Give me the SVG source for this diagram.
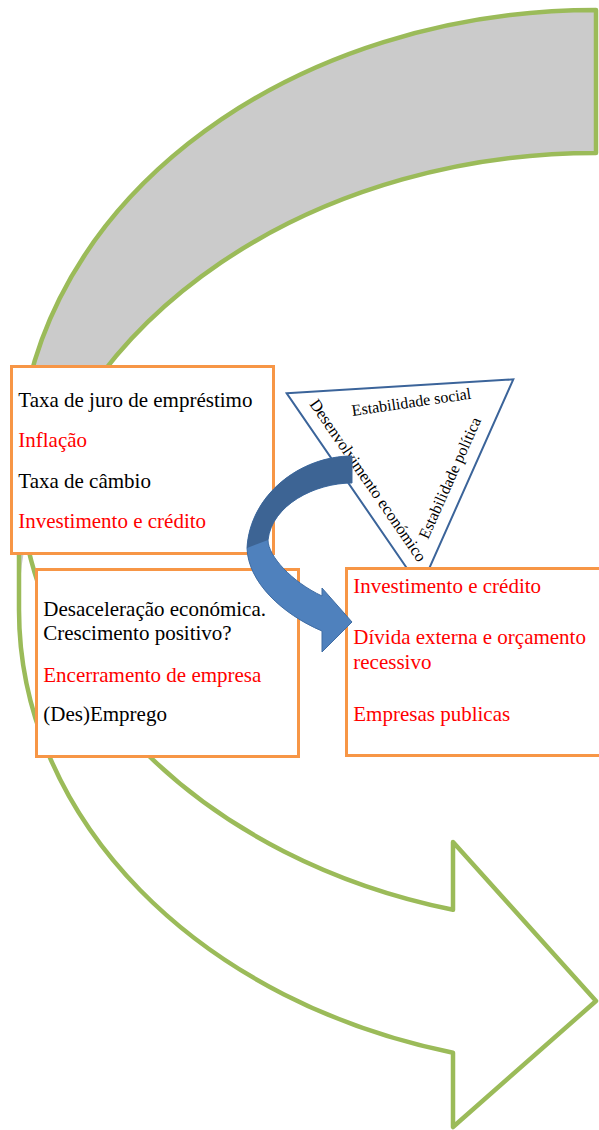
<svg xmlns="http://www.w3.org/2000/svg" width="599" height="1130" viewBox="0 0 599 1130">
<style>
.box{fill:#fff;stroke:#f79646;stroke-width:3}
.t{font-family:"Liberation Serif","Times New Roman",serif;font-size:21px}
.k{fill:#000}
.r{fill:#ff0000}
.tri{font-family:"Liberation Serif","Times New Roman",serif;font-size:16px;fill:#000}
</style>
<rect width="599" height="1130" fill="#fff"/>
<g id="cycle-arrow">
<path d="M19,467 A577,457 0 0 0 453,909.7 L453,842 L596,1001 L453,1127 L453,1052.7 A577,457 0 0 1 19,610 Z" fill="#fff"/>
<path d="M596,10 A577,457 0 0 0 19,467 L19,610 A577,457 0 0 1 596,153 Z" fill="#cbcbcb"/>
<path d="M19,467 A577,457 0 0 0 453,909.7 L453,842 L596,1001 L453,1127 L453,1052.7 A577,457 0 0 1 19,610 L19,467 A577,457 0 0 1 596,10 L596,153 A577,457 0 0 0 26,538.5" fill="none" stroke="#9bbb59" stroke-width="4.5" stroke-linejoin="round"/>
</g>
<g id="box-macro">
<rect class="box" x="11.5" y="366.5" width="262" height="187"/>
<text class="t k" x="18.3" y="407">Taxa de juro de empréstimo</text>
<text class="t r" x="18.3" y="447">Inflação</text>
<text class="t k" x="18.3" y="488">Taxa de câmbio</text>
<text class="t r" x="18.3" y="528">Investimento e crédito</text>
</g>
<g id="box-economia">
<rect class="box" x="36.5" y="569.5" width="262" height="187"/>
<text class="t k" x="43.3" y="616">Desaceleração económica.</text>
<text class="t k" x="43.3" y="640">Crescimento positivo?</text>
<text class="t r" x="43.3" y="681.5">Encerramento de empresa</text>
<text class="t k" x="43.3" y="721">(Des)Emprego</text>
</g>
<g id="triangle">
<polygon points="286.7,393.3 513.3,379.3 420.5,588" fill="#fff" stroke="#3b649a" stroke-width="2"/>
<text class="tri" transform="translate(352.6,416) rotate(-8.3)">Estabilidade social</text>
<text class="tri" style="font-size:16.5px" transform="translate(309,404) rotate(55.5)">Desenvolvimento económico</text>
<text class="tri" transform="translate(428,540) rotate(-66)">Estabilidade política</text>
</g>
<g id="box-estado">
<rect class="box" x="346.5" y="568.5" width="270" height="187"/>
<text class="t r" x="353.3" y="593.3">Investimento e crédito</text>
<text class="t r" x="353.3" y="644">Dívida externa e orçamento</text>
<text class="t r" x="353.3" y="669.3">recessivo</text>
<text class="t r" x="353.3" y="720.7">Empresas publicas</text>
</g>
<g id="connectors">
<path d="M352,456 C300,456 250,495 247,548 C248,582 282,614 322,631 L322,652 L352,622 L322,588 L322,596 C292,582 268,556 268,540 C272,505 315,483 352,483 Z" fill="#4f81bd" stroke="#3f6ca3" stroke-width="1"/>
<path d="M352,456 C300,456 250,495 247,548 L268,540 C272,505 315,483 352,483 Z" fill="#3d6494"/>
</g>
</svg>
